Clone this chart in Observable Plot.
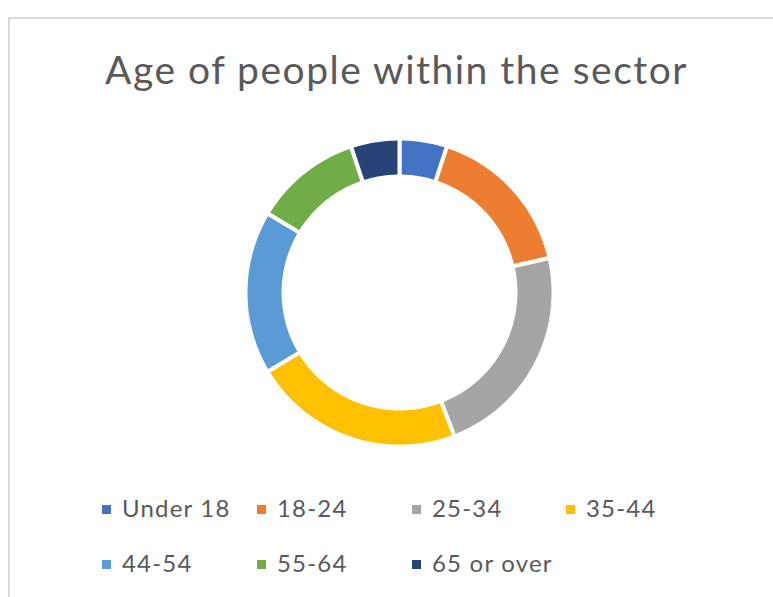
<!DOCTYPE html>
<html>
<head>
<meta charset="utf-8">
<script src="https://cdn.jsdelivr.net/npm/d3@7"></script>
<script src="https://cdn.jsdelivr.net/npm/@observablehq/plot@0.6"></script>
<style>
  html, body { margin: 0; padding: 0; background: #fff; }
  #root { position: relative; width: 773px; height: 597px; overflow: hidden; background: #fff; font-family: Lato, "Open Sans", sans-serif; }
  .bl { position: absolute; left: 8px; top: 17px; width: 2px; height: 600px; background: #d9d9d9; }
  .bt { position: absolute; left: 8px; top: 17px; width: 800px; height: 2px; background: #d9d9d9; }
  #title { position: absolute; left: 0; width: 793px; top: 46px; text-align: center; font-size: 39px; letter-spacing: 1.5px; color: #595959; white-space: nowrap; }
  #chart { position: absolute; left: 229px; top: 122px; }
  .leg { position: absolute; font-size: 24px; letter-spacing: 1.2px; color: #595959; white-space: nowrap; line-height: 1; }
  .sw { position: absolute; width: 9px; height: 9px; }
</style>
</head>
<body>
<div id="root">
  <div class="bl"></div>
  <div class="bt"></div>
  <div id="title"></div>
  <div id="chart"></div>
  <div id="legend"></div>
</div>
<script>
const title = "Age of people within the sector";
const categories = ["Under 18", "18-24", "25-34", "35-44", "44-54", "55-64", "65 or over"];
const values = [5.0, 16.4, 22.8, 22.2, 17.2, 11.3, 5.1];
const colors = ["#4472C4", "#ED7D31", "#A5A5A5", "#FFC000", "#5B9BD5", "#70AD47", "#264478"];

document.getElementById("title").textContent = title;

const data = categories.map((c, i) => ({label: c, value: values[i]}));
const pie = d3.pie().sort(null).value(d => d.value)(data);

const outerR = 1, innerR = 0.753;
const pts = [];
for (const s of pie) {
  const a0 = s.startAngle, a1 = s.endAngle;
  const n = Math.max(8, Math.ceil((a1 - a0) / 0.01));
  for (let k = 0; k <= n; k++) {
    const a = a0 + (a1 - a0) * k / n;
    pts.push({label: s.data.label, x: outerR * Math.sin(a), y: outerR * Math.cos(a)});
  }
  for (let k = n; k >= 0; k--) {
    const a = a0 + (a1 - a0) * k / n;
    pts.push({label: s.data.label, x: innerR * Math.sin(a), y: innerR * Math.cos(a)});
  }
}

const ext = 1.104;
const chart = Plot.plot({
  width: 340,
  height: 340,
  margin: 0,
  x: {axis: null, domain: [-ext, ext]},
  y: {axis: null, domain: [-ext, ext]},
  color: {domain: categories, range: colors},
  marks: [
    Plot.line(pts, {x: "x", y: "y", z: "label", fill: "label", stroke: "white", strokeWidth: 4, strokeLinejoin: "miter", curve: "linear-closed"})
  ]
});
document.getElementById("chart").appendChild(chart);

// legend
const legend = document.getElementById("legend");
const colX = [102, 257, 412, 566];
const rowY = [508, 563];
categories.forEach((c, i) => {
  const col = i < 4 ? i : i - 4;
  const row = i < 4 ? 0 : 1;
  const sw = document.createElement("div");
  sw.className = "sw";
  sw.style.left = colX[col] + "px";
  sw.style.top = (rowY[row] - 3) + "px";
  sw.style.background = colors[i];
  legend.appendChild(sw);
  const t = document.createElement("div");
  t.className = "leg";
  t.textContent = c;
  t.style.left = (colX[col] + 20) + "px";
  t.style.top = (rowY[row] - 12) + "px";
  legend.appendChild(t);
});
</script>
</body>
</html>
